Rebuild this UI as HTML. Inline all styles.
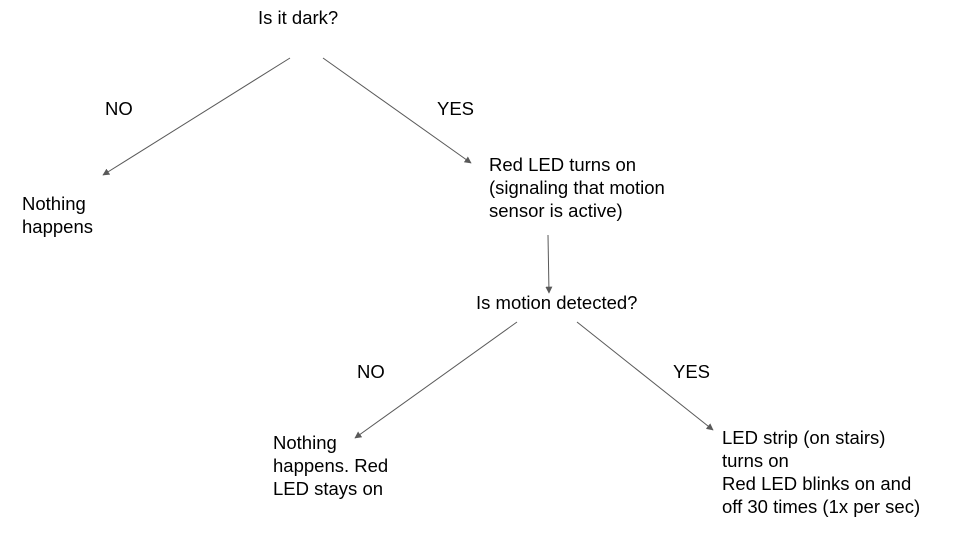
<!DOCTYPE html>
<html><head><meta charset="utf-8"><style>
html,body{margin:0;padding:0;background:#fff;}
svg{display:block;}
text{font-family:"Liberation Sans",Arial,sans-serif;font-size:18.5px;fill:#000;}
</style></head><body>
<svg width="960" height="540" viewBox="0 0 960 540" xmlns="http://www.w3.org/2000/svg">
<defs>
<marker id="a" viewBox="0 0 10 10" refX="9" refY="5" markerWidth="7" markerHeight="7" orient="auto" markerUnits="userSpaceOnUse">
<path d="M0,0 L10,5 L0,10 z" fill="#595959"/>
</marker>
</defs>
<g stroke="#595959" stroke-width="1" fill="none" marker-end="url(#a)">
<line x1="290" y1="58" x2="103" y2="175"/>
<line x1="323" y1="58" x2="471" y2="163"/>
<line x1="548" y1="235" x2="549" y2="293"/>
<line x1="517" y1="322" x2="355" y2="438"/>
<line x1="577" y1="322" x2="713" y2="430"/>
</g>
<text x="258" y="24">Is it dark?</text>
<text x="105" y="115">NO</text>
<text x="437" y="115">YES</text>
<text x="22" y="210">Nothing</text>
<text x="22" y="233">happens</text>
<text x="489" y="171">Red LED turns on</text>
<text x="489" y="194">(signaling that motion</text>
<text x="489" y="217">sensor is active)</text>
<text x="476" y="309">Is motion detected?</text>
<text x="357" y="378">NO</text>
<text x="673" y="378">YES</text>
<text x="273" y="449">Nothing</text>
<text x="273" y="472">happens. Red</text>
<text x="273" y="495">LED stays on</text>
<text x="722" y="444">LED strip (on stairs)</text>
<text x="722" y="467">turns on</text>
<text x="722" y="490">Red LED blinks on and</text>
<text x="722" y="513">off 30 times (1x per sec)</text>
</svg>
</body></html>
